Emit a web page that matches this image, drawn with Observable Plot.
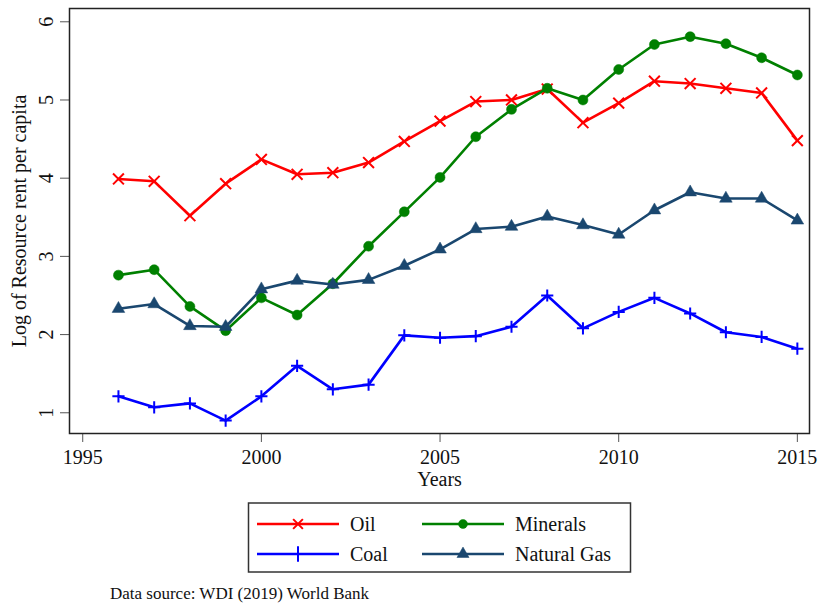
<!DOCTYPE html>
<html>
<head>
<meta charset="utf-8">
<script src="https://cdn.jsdelivr.net/npm/d3@7"></script>
<script src="https://cdn.jsdelivr.net/npm/@observablehq/plot@0.6"></script>
<style>
  html, body { margin: 0; padding: 0; background: #fff; }
  #wrap { position: relative; width: 818px; height: 603px; }
  #chart { position: absolute; left: 0; top: 0; }
  #below { position: absolute; left: 0; top: 490px; }
  #below text { font-family: "Liberation Serif", serif; }
</style>
</head>
<body>
<div id="wrap">
  <div id="chart"></div>
  <div id="below"></div>
</div>
<script>
const years = [1996,1997,1998,1999,2000,2001,2002,2003,2004,2005,2006,2007,2008,2009,2010,2011,2012,2013,2014,2015];
const oil      = [3.99,3.96,3.52,3.93,4.24,4.05,4.07,4.20,4.47,4.73,4.98,5.00,5.14,4.71,4.96,5.24,5.21,5.15,5.09,4.48];
const minerals = [2.76,2.83,2.36,2.05,2.47,2.25,2.65,3.13,3.57,4.01,4.53,4.88,5.15,5.00,5.39,5.71,5.81,5.72,5.54,5.32];
const coal     = [1.21,1.07,1.12,0.90,1.21,1.60,1.30,1.36,1.99,1.96,1.98,2.10,2.50,2.08,2.29,2.47,2.27,2.03,1.97,1.82];
const gas      = [2.33,2.39,2.11,2.10,2.58,2.69,2.64,2.70,2.88,3.09,3.35,3.38,3.51,3.40,3.28,3.59,3.82,3.74,3.74,3.46];
const seriesNames = ["Oil","Minerals","Coal","Natural Gas"];
const seriesColors = ["#ff0000","#008000","#0000ff","#1a476f"];
const seriesSymbols = ["times","circle","plus","triangle"];
const xTicks = [1995,2000,2005,2010,2015];
const yTicks = [1,2,3,4,5,6];
const captionText = "Data source: WDI (2019) World Bank";

const serifFont = "Liberation Serif, Times New Roman, serif";

const seriesValues = [oil, minerals, coal, gas];
const series = seriesNames.map((name, i) => ({
  name, color: seriesColors[i], symbol: seriesSymbols[i],
  rows: years.map((yr, j) => ({year: yr, value: seriesValues[i][j]}))
}));

const marks = [];
for (const s of series) {
  marks.push(Plot.line(s.rows, {x: "year", y: "value", stroke: s.color, strokeWidth: 2.6}));
  const stroked = s.symbol === "times" || s.symbol === "plus";
  marks.push(Plot.dot(s.rows, {
    x: "year", y: "value", symbol: () => s.symbol,
    r: s.symbol === "plus" ? 4 : (s.symbol === "triangle" ? 4.7 : 5),
    fill: stroked ? "none" : s.color,
    stroke: s.color, strokeWidth: stroked ? 2 : 0.5
  }));
}

const chart = Plot.plot({
  width: 818, height: 490,
  marginLeft: 69, marginRight: 9, marginTop: 8, marginBottom: 57,
  style: {fontFamily: serifFont, fontSize: "20px", color: "#111", background: "#fff"},
  symbol: {type: "identity"},
  x: {domain: [1994.63, 2015.34]},
  y: {domain: [0.735, 6.17]},
  marks: [
    Plot.axisX({ticks: xTicks, tickSize: 9, tickPadding: 7, tickFormat: d => String(d), stroke: "#555",
      label: "Years", labelAnchor: "center", labelArrow: "none", labelOffset: 52, fontSize: 20}),
    Plot.axisY({ticks: yTicks, tickSize: 9, tickPadding: 8, tickRotate: -90, tickFormat: d => String(d), stroke: "#555",
      label: "Log of Resource rent per capita", labelAnchor: "center", labelArrow: "none", labelOffset: 58, fontSize: 20}),
    ...marks,
    Plot.frame({stroke: "#222", strokeWidth: 1.5})
  ]
});
document.getElementById("chart").appendChild(chart);

// legend + caption, drawn in an SVG below the plot
const svg = d3.select("#below").append("svg")
  .attr("width", 818).attr("height", 113)
  .attr("font-family", serifFont)
  .style("display", "block");

svg.append("rect").attr("x", 248.5).attr("y", 13).attr("width", 382).attr("height", 69)
  .attr("fill", "#fff").attr("stroke", "#333").attr("stroke-width", 1.5);

const symMap = {times: d3.symbolTimes, plus: d3.symbolPlus, circle: d3.symbolCircle, triangle: d3.symbolTriangle};
const cols = [257, 422];
const rows = [34, 64];
series.forEach((s, idx) => {
  const cx = cols[idx % 2], cy = rows[Math.floor(idx / 2)];
  const g = svg.append("g").attr("transform", `translate(${cx},${cy})`);
  g.append("line").attr("x1", 0).attr("x2", 82).attr("y1", 0).attr("y2", 0)
    .attr("stroke", s.color).attr("stroke-width", 2.6);
  const stroked = s.symbol === "times" || s.symbol === "plus";
  const rr = s.symbol === "plus" ? 5 : 4.5;
  g.append("path").attr("d", d3.symbol(symMap[s.symbol], rr * rr * Math.PI)())
    .attr("transform", "translate(41,0)")
    .attr("fill", stroked ? "none" : s.color)
    .attr("stroke", s.color).attr("stroke-width", stroked ? 2 : 0.5);
  g.append("text").attr("x", 93).attr("y", 0).attr("dy", "0.35em")
    .attr("font-size", 20).attr("fill", "#111").text(s.name);
});

svg.append("text").attr("x", 110).attr("y", 103).attr("dy", "0.35em")
  .attr("font-size", 17).attr("fill", "#111").text(captionText);
</script>
</body>
</html>
